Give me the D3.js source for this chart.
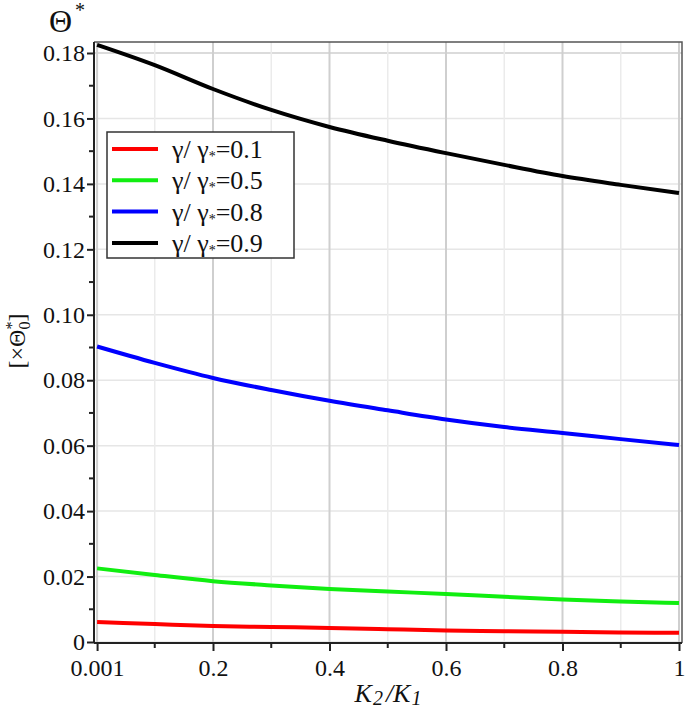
<!DOCTYPE html>
<html>
<head>
<meta charset="utf-8">
<script src="https://cdn.jsdelivr.net/npm/d3@7"></script>
<style>
  body { margin:0; background:#fff; }
  svg text { font-family:"Liberation Serif", "Times New Roman", serif; fill:#111; }
</style>
</head>
<body>
<svg id="chart" width="685" height="712"></svg>
<script>
// K2/K1 sample positions
const kRatio = [0.001, 0.1, 0.2, 0.3, 0.4, 0.5, 0.6, 0.7, 0.8, 0.9, 1];

// Θ* values for each γ/γ*
const theta01 = [0.0061, 0.0055, 0.0049, 0.0046, 0.0043, 0.0039, 0.0035, 0.0033, 0.0031, 0.0029, 0.0028];
const theta05 = [0.0225, 0.0205, 0.0186, 0.0173, 0.0162, 0.0154, 0.0147, 0.0138, 0.0130, 0.0124, 0.0119];
const theta08 = [0.0903, 0.0853, 0.0807, 0.0770, 0.0737, 0.0708, 0.0680, 0.0657, 0.0639, 0.0620, 0.0602];
const theta09 = [0.1825, 0.1763, 0.1690, 0.1626, 0.1574, 0.1532, 0.1494, 0.1458, 0.1424, 0.1397, 0.1372];

const seriesLabels = ["0.1", "0.5", "0.8", "0.9"];
const seriesColors = ["#ff0000", "#11ee11", "#0000ff", "#000000"];
const seriesValues = [theta01, theta05, theta08, theta09];

const xTickValues = [0.001, 0.2, 0.4, 0.6, 0.8, 1];
const xTickLabels = ["0.001", "0.2", "0.4", "0.6", "0.8", "1"];
const xMinorTicks = [0.1, 0.3, 0.5, 0.7, 0.9];
const yTickValues = [0, 0.02, 0.04, 0.06, 0.08, 0.10, 0.12, 0.14, 0.16, 0.18];
const yTickLabels = ["0", "0.02", "0.04", "0.06", "0.08", "0.10", "0.12", "0.14", "0.16", "0.18"];
const yMinorTicks = [0.01, 0.03, 0.05, 0.07, 0.09, 0.11, 0.13, 0.15, 0.17];

const svg = d3.select("#chart");
const frame = {left:94, top:42, right:682, bottom:643};

const x = d3.scaleLinear().domain([0, 1]).range([96.5, 679]);
const y = d3.scaleLinear().domain([0, 0.18]).range([642, 53]);

// grid
const grid = svg.append("g");
grid.selectAll("line.h")
    .data(yTickValues)
    .join("line")
    .attr("x1", frame.left).attr("x2", frame.right)
    .attr("y1", d => y(d)).attr("y2", d => y(d))
    .attr("stroke", d => d === 0.18 ? "#cfcfcf" : "#e6e6e6").attr("stroke-width", 1.5);
grid.selectAll("line.vminor")
    .data(xMinorTicks)
    .join("line")
    .attr("x1", d => x(d)).attr("x2", d => x(d))
    .attr("y1", frame.top).attr("y2", frame.bottom)
    .attr("stroke", "#ebebeb").attr("stroke-width", 1.5);
grid.selectAll("line.vmajor")
    .data(xTickValues)
    .join("line")
    .attr("x1", d => x(d)).attr("x2", d => x(d))
    .attr("y1", frame.top).attr("y2", frame.bottom)
    .attr("stroke", "#cfcfcf").attr("stroke-width", 2);

// frame (top / right)
svg.append("path")
    .attr("d", `M${frame.left},${frame.top}H${frame.right}V${frame.bottom}`)
    .attr("fill", "none").attr("stroke", "#555").attr("stroke-width", 1.5);

// axes
const xAxis = d3.axisBottom(x).tickValues(xTickValues)
    .tickFormat((d, i) => xTickLabels[i]).tickSizeOuter(0).tickSize(8).tickPadding(8);
const gx = svg.append("g").attr("transform", `translate(0,${frame.bottom})`).call(xAxis);
gx.select(".domain").attr("d", `M${frame.left},0H${frame.right}`).attr("stroke", "#222").attr("stroke-width", 2);
gx.selectAll(".tick line").attr("stroke", "#222").attr("stroke-width", 2);
gx.selectAll(".tick text").attr("font-size", 24).attr("font-family", "Liberation Serif").attr("fill", "#111");
gx.selectAll(".minor").data(xMinorTicks).join("line").attr("class", "minor")
    .attr("x1", d => x(d)).attr("x2", d => x(d)).attr("y1", 0).attr("y2", 5)
    .attr("stroke", "#222").attr("stroke-width", 2);

const yAxis = d3.axisLeft(y).tickValues(yTickValues)
    .tickFormat((d, i) => yTickLabels[i]).tickSizeOuter(0).tickSize(7).tickPadding(2);
const gy = svg.append("g").attr("transform", `translate(${frame.left},0)`).call(yAxis);
gy.select(".domain").attr("d", `M0,${frame.top}V${frame.bottom}`).attr("stroke", "#222").attr("stroke-width", 2);
gy.selectAll(".tick line").attr("stroke", "#222").attr("stroke-width", 2);
gy.selectAll(".tick text").attr("font-size", 24).attr("font-family", "Liberation Serif").attr("fill", "#111").attr("dy", "0.32em");
gy.selectAll(".minor").data(yMinorTicks).join("line").attr("class", "minor")
    .attr("x1", -5).attr("x2", 0).attr("y1", d => y(d)).attr("y2", d => y(d))
    .attr("stroke", "#222").attr("stroke-width", 2);

// curves
const line = d3.line().x((d, i) => x(kRatio[i])).y(d => y(d)).curve(d3.curveMonotoneX);
svg.append("g").selectAll("path")
    .data(seriesValues)
    .join("path")
    .attr("d", line)
    .attr("fill", "none")
    .attr("stroke", (d, i) => seriesColors[i])
    .attr("stroke-width", 4);

// title Θ*
const title = svg.append("text").attr("x", 49).attr("y", 32).attr("font-size", 32);
title.append("tspan").text("Θ");
title.append("tspan").attr("font-size", 20).attr("dx", 3).attr("dy", -15).text("*");

// y label [×Θ*0]
const ylab = svg.append("text")
    .attr("transform", "translate(25,341) rotate(-90)")
    .attr("text-anchor", "middle").attr("font-size", 24);
ylab.append("tspan").text("[×Θ");
ylab.append("tspan").attr("font-size", 16).attr("dy", -8).text("*");
ylab.append("tspan").attr("font-size", 16).attr("dx", -8).attr("dy", 13).text("0");
ylab.append("tspan").attr("dy", -5).text("]");

// x label K2/K1
const xlab = svg.append("text").attr("x", 388).attr("y", 702)
    .attr("text-anchor", "middle").attr("font-size", 26).attr("font-style", "italic");
xlab.append("tspan").text("K");
xlab.append("tspan").attr("font-size", 20).attr("dx", 1).attr("dy", 3).text("2");
xlab.append("tspan").attr("dx", 3).attr("dy", -3).text("/K");
xlab.append("tspan").attr("font-size", 20).attr("dx", 1).attr("dy", 3).text("1");

// legend
const legend = svg.append("g");
legend.append("rect").attr("x", 107).attr("y", 132).attr("width", 187).attr("height", 126)
    .attr("fill", "#fff").attr("stroke", "#333").attr("stroke-width", 1.5);
const rows = legend.selectAll("g.row").data(seriesLabels).join("g")
    .attr("transform", (d, i) => `translate(0,${149 + i * 31.3})`);
rows.append("line").attr("x1", 112).attr("x2", 158).attr("y1", 0).attr("y2", 0)
    .attr("stroke", (d, i) => seriesColors[i]).attr("stroke-width", 4);
const lt = rows.append("text").attr("x", 172).attr("y", 9).attr("font-size", 26);
lt.append("tspan").text("γ/ γ");
lt.append("tspan").attr("font-size", 14).attr("dy", 3).text("*");
lt.append("tspan").attr("dy", -3).text(d => "=" + d);
</script>
</body>
</html>
